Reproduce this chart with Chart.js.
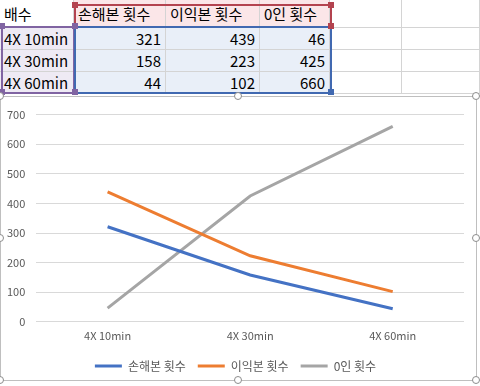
<!DOCTYPE html>
<html>
<head>
<meta charset="utf-8">
<script src="https://cdn.jsdelivr.net/npm/chart.js@4"></script>
<style>
  body { margin: 0; width: 480px; height: 386px; overflow: hidden; background: #fff;
         font-family: "Noto Sans CJK KR", "Noto Sans", sans-serif; position: relative; }
  .cell { position: absolute; box-sizing: border-box; font-size: 15px; color: #000;
          border-right: 1px solid #d4d4d4; border-bottom: 1px solid #d4d4d4;
          line-height: 21px; padding: 0 4px; white-space: nowrap; }
  .num { text-align: right; }
  .sel { position: absolute; box-sizing: border-box; border: 2px solid; }
  .sq { position: absolute; width: 6px; height: 6px; }
  #chartBox { position: absolute; left: 0; top: 96px; width: 477px; height: 285px;
              box-sizing: border-box; border: 1px solid #bfbfbf; background: #fff; }
  .h { position: absolute; width: 8px; height: 8px; border-radius: 50%; background: #fff;
       border: 1px solid #8c8c8c; box-sizing: border-box; }
</style>
</head>
<body>
<div id="sheet"></div>
<div id="chartBox"><canvas id="myChart-line"></canvas></div>
<script>
// data
const headCol = "배수";
const categories = ["4X 10min", "4X 30min", "4X 60min"];
const seriesNames = ["손해본 횟수", "이익본 횟수", "0인 횟수"];
const lossCounts = [321, 158, 44];
const gainCounts = [439, 223, 102];
const zeroCounts = [46, 425, 660];
const yTicks = [0, 100, 200, 300, 400, 500, 600, 700];

const sheet = document.getElementById("sheet");
const colX = [0, 74, 166, 260, 330, 402, 480];
const rowY = [0, 28, 50, 72, 94];

function addCell(text, c, r, cls, bg) {
    const d = document.createElement("div");
    d.className = "cell " + (cls || "");
    d.style.left = colX[c] + "px";
    d.style.top = rowY[r] + "px";
    d.style.width = (colX[c + 1] - colX[c]) + "px";
    d.style.height = (rowY[r + 1] - rowY[r]) + "px";
    d.style.lineHeight = (rowY[r + 1] - rowY[r]) + "px";
    if (bg) d.style.background = bg;
    d.textContent = text;
    sheet.appendChild(d);
}
// header row
addCell(headCol, 0, 0);
seriesNames.forEach((n, i) => addCell(n, i + 1, 0, "", "#fbe6e8"));
addCell("", 4, 0); addCell("", 5, 0);
// data rows
const cols = [lossCounts, gainCounts, zeroCounts];
categories.forEach((cat, r) => {
    addCell(cat, 0, r + 1, "", "#eeeaf4");
    cols.forEach((arr, c) => addCell(arr[r], c + 1, r + 1, "num", "#e9eff8"));
    addCell("", 4, r + 1); addCell("", 5, r + 1);
});

// selection borders
function selBox(x, y, w, h, col) {
    const d = document.createElement("div");
    d.className = "sel";
    Object.assign(d.style, { left: x + "px", top: y + "px", width: w + "px", height: h + "px", borderColor: col });
    sheet.appendChild(d);
}
function sq(x, y, col) {
    const d = document.createElement("div");
    d.className = "sq";
    Object.assign(d.style, { left: (x - 3) + "px", top: (y - 3) + "px", background: col });
    sheet.appendChild(d);
}
selBox(74, 4, 258, 24, "#b3434f");
selBox(1, 26, 74, 68, "#8064a2");
selBox(74, 26, 258, 68, "#4169b1");
sq(75, 5, "#b3434f"); sq(331, 5, "#b3434f"); sq(331, 26, "#b3434f");
sq(2, 26, "#8064a2"); sq(75, 26, "#8064a2"); sq(2, 92, "#8064a2"); sq(75, 92, "#8064a2");
sq(331, 92, "#4169b1");

// legend a bit tighter vertically than chart.js gives
const legendTrim = {
    id: "legendTrim",
    beforeInit(chart) {
        const fit = chart.legend.fit;
        chart.legend.fit = function () {
            fit.call(this);
            this.height -= 3;
        };
    },
    afterLayout(chart) {
        chart.legend.top -= 1;
        chart.legend.bottom -= 1;
    }
};

// chart
const ctx = document.getElementById("myChart-line");
const colours = ["#4472c4", "#ed7d31", "#a5a5a5"];
new Chart(ctx, {
    type: "line",
    data: {
        labels: categories,
        datasets: [lossCounts, gainCounts, zeroCounts].map((d, i) => ({
            label: seriesNames[i],
            data: d,
            borderColor: colours[i],
            backgroundColor: colours[i],
            borderWidth: 3,
            pointRadius: 0,
            tension: 0
        }))
    },
    options: {
        responsive: true,
        maintainAspectRatio: false,
        animation: false,
        layout: { padding: { left: 6, right: 12, top: 0, bottom: 0 } },
        plugins: {
            legend: {
                position: "bottom",
                labels: {
                    color: "#595959",
                    font: { family: "Noto Sans CJK KR", size: 12 },
                    boxWidth: 27,
                    boxHeight: 3,
                    padding: 12,
                    generateLabels: (chart) => {
                        const items = Chart.defaults.plugins.legend.labels.generateLabels(chart);
                        items.forEach(it => { it.lineWidth = 0; });
                        return items;
                    }
                }
            },
            tooltip: { enabled: false }
        },
        scales: {
            x: {
                offset: true,
                grid: { display: false, drawTicks: false },
                border: { display: false },
                ticks: { color: "#595959", font: { family: "Noto Sans CJK KR", size: 11 }, padding: 7 }
            },
            y: {
                min: 0,
                max: 700,
                afterBuildTicks: (axis) => { axis.ticks = yTicks.map(v => ({ value: v })); },
                afterFit: (axis) => { axis.width -= 11; }, // chart.js counts the padding twice
                grid: { color: "#d9d9d9", drawTicks: false },
                border: { display: false },
                ticks: { color: "#595959", font: { family: "Noto Sans CJK KR", size: 11 }, padding: 11 }
            }
        }
    },
    plugins: [legendTrim]
});

// chart handles
[[0, 96], [238, 96], [476, 96], [0, 238], [476, 238], [0, 380], [238, 380], [476, 380]].forEach(([x, y]) => {
    const d = document.createElement("div");
    d.className = "h";
    d.style.left = (x - 4) + "px";
    d.style.top = (y - 4) + "px";
    document.body.appendChild(d);
});
</script>
</body>
</html>
